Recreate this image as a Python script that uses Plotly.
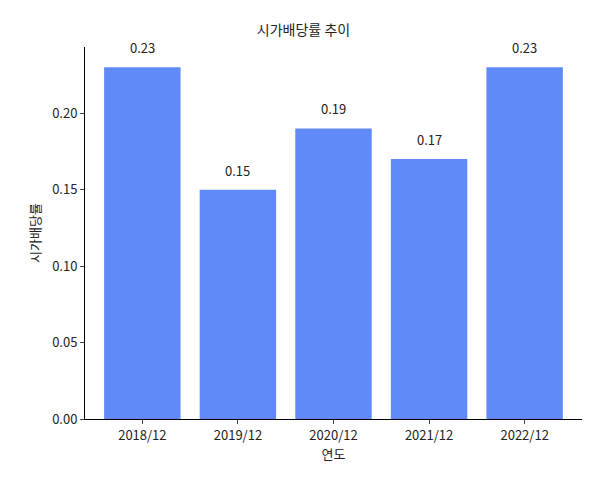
import plotly.graph_objects as go

years = ['2018/12', '2019/12', '2020/12', '2021/12', '2022/12']
yields = [0.23, 0.15, 0.19, 0.17, 0.23]
tick_vals = [0.0, 0.05, 0.10, 0.15, 0.20]
tick_text = ['0.00', '0.05', '0.10', '0.15', '0.20']

font = 'Noto Sans CJK KR'

fig = go.Figure(go.Bar(
    x=years, y=yields,
    marker_color='#5f8af7',
    marker_line_width=0,
    width=0.8,
))

# value labels a little above each bar
for x, v in zip(years, yields):
    fig.add_annotation(x=x, y=v, text=f'{v:.2f}', showarrow=False,
                       yanchor='bottom', yshift=8, font=dict(size=13, color='#222222'))

fig.update_layout(
    width=591, height=479,
    margin=dict(l=77, r=17, t=39, b=68),
    plot_bgcolor='white', paper_bgcolor='white',
    font=dict(family=font, size=13, color='#222222'),
    title=dict(text='시가배당률 추이', x=0.5, xanchor='center', y=0.965, font=dict(size=14)),
    showlegend=False,
)
fig.update_xaxes(
    title_text='연도', title_standoff=6, title_font_size=13,
    showline=True, linecolor='black', ticks='outside', ticklen=4,
    range=[-0.6, 4.6],
)
fig.update_yaxes(
    title_text='시가배당률', title_standoff=8, title_font_size=13,
    range=[0, 0.2433], tickvals=tick_vals, ticktext=tick_text,
    showline=True, linecolor='black', ticks='outside', ticklen=4,
    showgrid=False, zeroline=False,
)

fig.write_html('out.html')
